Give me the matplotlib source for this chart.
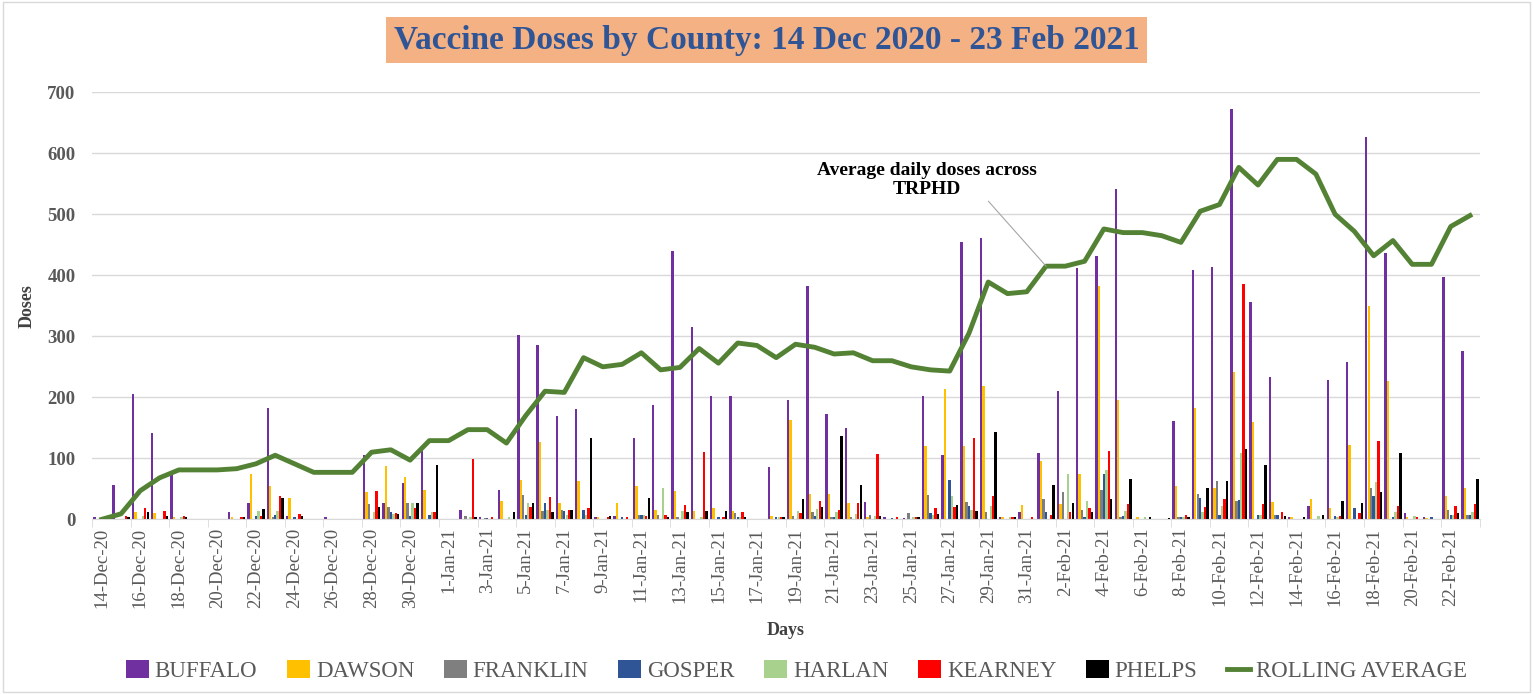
import numpy as np
import pandas as pd
import matplotlib
matplotlib.use('Agg')
import matplotlib.pyplot as plt
from matplotlib.patches import Patch, Rectangle
from matplotlib.lines import Line2D

plt.rcParams['font.family'] = ['Liberation Serif', 'DejaVu Serif']

dates = pd.date_range('2020-12-14', '2021-02-23')
n = len(dates)

def series(d):
    a = np.zeros(n)
    for k, v in d.items():
        a[k] = v
    return a

buffalo = series({0: 3, 1: 57, 2: 206, 3: 141, 4: 72, 7: 12, 8: 26, 9: 183, 10: 6, 12: 3,
                  14: 105, 15: 26, 16: 59, 17: 115, 19: 15, 20: 3, 21: 48, 22: 302, 23: 285,
                  24: 170, 25: 181, 26: 4, 27: 5, 28: 133, 29: 188, 30: 440, 31: 316, 32: 202,
                  33: 202, 35: 85, 36: 195, 37: 383, 38: 172, 39: 150, 40: 28, 41: 3, 42: 2,
                  43: 202, 44: 106, 45: 455, 46: 461, 47: 4, 48: 12, 49: 108, 50: 211, 51: 412,
                  52: 432, 53: 542, 56: 161, 57: 409, 58: 414, 59: 672, 60: 356, 61: 233,
                  62: 3, 63: 22, 64: 228, 65: 258, 66: 627, 67: 437, 68: 10, 69: 3, 70: 398,
                  71: 276})
dawson = series({2: 12, 3: 10, 4: 3, 7: 3, 8: 74, 9: 54, 10: 35, 14: 44, 15: 87, 16: 69,
                 17: 48, 21: 30, 22: 65, 23: 126, 24: 26, 25: 63, 26: 4, 27: 26, 28: 55,
                 29: 15, 30: 47, 31: 14, 32: 19, 33: 14, 35: 5, 36: 163, 37: 41, 38: 41,
                 39: 26, 40: 3, 43: 120, 44: 213, 45: 120, 46: 218, 47: 3, 48: 23, 49: 95,
                 50: 25, 51: 75, 52: 382, 53: 196, 54: 4, 56: 55, 57: 183, 58: 52, 59: 242,
                 60: 159, 61: 28, 62: 4, 63: 33, 64: 18, 65: 122, 66: 349, 67: 227, 68: 3,
                 69: 2, 70: 39, 71: 52})
franklin = series({6: 1, 9: 3, 14: 25, 15: 20, 16: 26, 19: 5, 20: 2, 22: 40, 23: 14, 24: 15,
                   28: 7, 29: 7, 30: 4, 33: 10, 36: 5, 37: 12, 38: 4, 39: 4, 40: 7, 42: 10,
                   43: 40, 45: 29, 46: 12, 49: 33, 50: 44, 51: 15, 52: 48, 53: 3, 56: 4,
                   57: 41, 58: 62, 59: 30, 61: 7, 66: 52, 70: 15, 71: 7})
gosper = series({8: 5, 9: 7, 10: 3, 15: 12, 16: 5, 17: 7, 20: 2, 22: 7, 23: 26, 24: 14, 25: 15,
                 27: 3, 28: 7, 32: 4, 33: 4, 35: 3, 37: 5, 38: 4, 41: 2, 43: 10, 44: 65,
                 45: 22, 49: 12, 51: 4, 52: 74, 53: 6, 56: 4, 57: 35, 58: 7, 59: 31, 60: 7,
                 61: 7, 64: 6, 65: 18, 66: 38, 67: 3, 69: 3, 70: 7, 71: 7})
harlan = series({2: 5, 4: 4, 8: 14, 9: 14, 14: 12, 15: 9, 16: 26, 17: 12, 19: 4, 21: 4, 22: 26,
                 23: 15, 24: 7, 25: 7, 28: 7, 29: 52, 30: 14, 31: 4, 33: 4, 35: 4, 36: 14,
                 37: 17, 38: 12, 39: 8, 40: 5, 42: 4, 43: 7, 44: 38, 45: 15, 46: 22, 47: 4,
                 50: 75, 51: 30, 52: 81, 53: 14, 54: 4, 56: 4, 57: 12, 58: 22, 59: 108,
                 60: 7, 63: 5, 64: 3, 66: 61, 67: 12, 68: 5, 70: 7, 71: 12})
kearney = series({1: 5, 2: 18, 3: 13, 4: 5, 7: 3, 8: 6, 9: 38, 10: 8, 14: 46, 15: 10, 16: 18,
                  17: 12, 19: 99, 20: 3, 22: 20, 23: 36, 24: 15, 25: 18, 26: 3, 27: 3, 28: 5,
                  29: 7, 30: 24, 31: 110, 32: 4, 33: 12, 35: 4, 36: 10, 37: 30, 38: 15,
                  39: 26, 40: 107, 41: 3, 42: 3, 43: 18, 44: 20, 45: 134, 46: 39, 47: 3,
                  48: 3, 49: 7, 50: 12, 51: 18, 52: 112, 53: 25, 56: 7, 57: 21, 58: 33,
                  59: 385, 60: 25, 61: 12, 64: 5, 65: 10, 66: 129, 67: 22, 68: 4, 70: 22,
                  71: 25})
phelps = series({1: 3, 2: 12, 3: 5, 4: 3, 7: 3, 8: 17, 9: 35, 10: 5, 14: 20, 15: 8, 16: 26,
                 17: 89, 19: 3, 21: 12, 22: 26, 23: 12, 24: 15, 25: 133, 26: 5, 28: 35,
                 29: 4, 30: 12, 31: 14, 32: 14, 33: 3, 35: 4, 36: 34, 37: 21, 38: 136,
                 39: 56, 40: 6, 42: 3, 43: 8, 44: 23, 45: 14, 46: 143, 47: 3, 49: 56, 50: 26,
                 51: 12, 52: 34, 53: 66, 54: 3, 55: 2, 56: 3, 57: 52, 58: 63, 59: 115, 60: 89,
                 61: 6, 62: 3, 63: 7, 64: 30, 65: 26, 66: 45, 67: 109, 70: 10, 71: 66})
rolling = np.array([0, 9, 47, 68, 81, 81, 81, 83, 91, 105, 91, 77, 77, 77, 110, 114, 97, 129,
                    129, 147, 147, 125, 170, 210, 208, 265, 250, 254, 273, 245, 249, 280, 256,
                    289, 285, 265, 287, 282, 271, 273, 260, 260, 250, 245, 243, 305, 389, 370,
                    373, 415, 415, 423, 476, 470, 470, 465, 454, 505, 516, 577, 548, 590, 590,
                    566, 500, 472, 432, 457, 418, 418, 480, 498])

counties = ['BUFFALO', 'DAWSON', 'FRANKLIN', 'GOSPER', 'HARLAN', 'KEARNEY', 'PHELPS']
values = [buffalo, dawson, franklin, gosper, harlan, kearney, phelps]
colors = ['#7030A0', '#FFC000', '#7F7F7F', '#2F5597', '#A9D18E', '#FF0000', '#000000']
line_color = '#548235'

fig = plt.figure(figsize=(15.33, 6.94), dpi=100)
ax = fig.add_axes([0.0601, 0.2517, 0.9051, 0.6153])
fig.add_artist(Rectangle((0.002, 0.003), 0.996, 0.994, transform=fig.transFigure,
                         fill=False, edgecolor='#d9d9d9', lw=1))

x = np.arange(n)
pitch = 0.128
for j, (vals, c) in enumerate(zip(values, colors)):
    ax.bar(x + (j - 3) * pitch, vals, width=0.125, color=c, zorder=2)
ax.plot(x, rolling, color=line_color, lw=3.5, zorder=3, solid_joinstyle='round')

ax.set_xlim(-0.5, n - 0.5)
ax.set_ylim(0, 700)
ax.set_yticks(range(0, 701, 100))
ax.yaxis.grid(True, color='#d9d9d9', lw=1)
ax.set_axisbelow(True)
for s in ['top', 'right', 'left']:
    ax.spines[s].set_visible(False)
ax.spines['bottom'].set_color('#d9d9d9')

ax.set_xticks(x[::2])
ax.set_xticklabels([f"{d.day}-{d.strftime('%b-%y')}" for d in dates[::2]], rotation=90,
                   fontsize=13.5, color='#595959')
ax.set_xticks(np.arange(-0.5, n, 2), minor=True)
ax.tick_params(axis='x', which='major', length=0, pad=6)
ax.tick_params(axis='x', which='minor', length=6, color='#d9d9d9')
ax.tick_params(axis='y', length=0, pad=12)
for t in ax.get_yticklabels():
    t.set_fontsize(13.5)
    t.set_fontweight('bold')
    t.set_color('#595959')

ax.set_ylabel('Doses', fontsize=13, fontweight='bold', color='#404040', labelpad=8)
ax.set_xlabel('Days', fontsize=13, fontweight='bold', color='#404040', labelpad=10)

ax.annotate('Average daily doses across\nTRPHD', xy=(49, 415), xytext=(42.8, 556),
            ha='center', va='center', fontsize=14, fontweight='bold', color='black',
            arrowprops=dict(arrowstyle='-', color='#a6a6a6', lw=0.8, shrinkA=0, shrinkB=0,
                            relpos=(0.77, 0.0)))

fig.text(0.5, 0.942, 'Vaccine Doses by County: 14 Dec 2020 - 23 Feb 2021', ha='center',
         va='center', fontsize=24, fontweight='bold', color='#2F5597',
         bbox=dict(boxstyle='square,pad=0.22', facecolor='#F4B183', edgecolor='none'))

handles = [Patch(facecolor=c, edgecolor='none') for c in colors]
handles.append(Line2D([0], [0], color=line_color, lw=3.5))
fig.legend(handles, counties + ['ROLLING AVERAGE'], loc='center', bbox_to_anchor=(0.5196, 0.033),
           ncol=8, frameon=False, fontsize=16.5, handlelength=1.0, handleheight=0.8,
           columnspacing=1.3, handletextpad=0.25, labelcolor='#595959')

fig.savefig('out.png', dpi=100)
